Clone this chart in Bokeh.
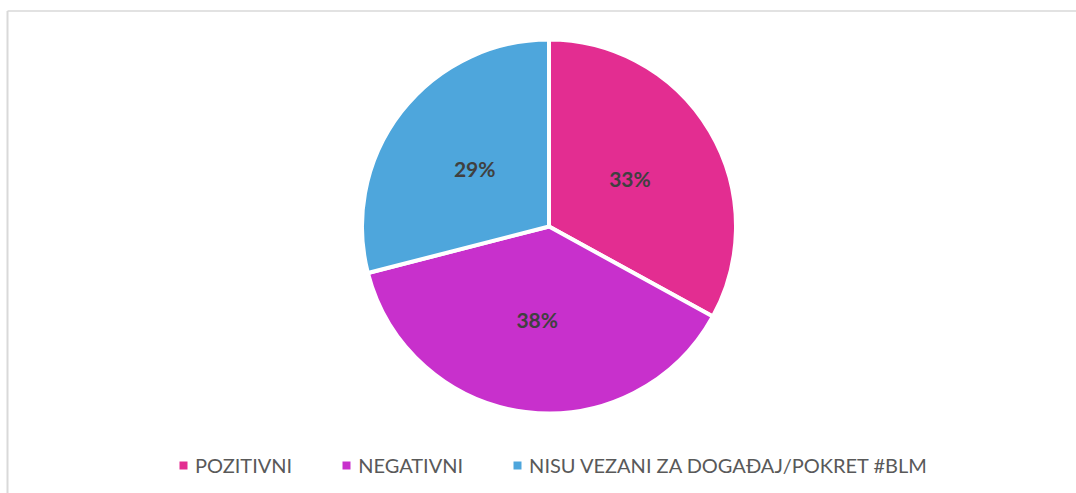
import numpy as np
from bokeh.plotting import figure
from bokeh.models import ColumnDataSource, Range1d, Legend, LegendItem
from bokeh.embed import file_html
from bokeh.resources import INLINE
from bokeh.core.properties import value

# ---- data ----
categories = ["POZITIVNI", "NEGATIVNI", "NISU VEZANI ZA DOGAĐAJ/POKRET #BLM"]
shares = [33, 38, 29]
colors = ["#E32D91", "#C830CC", "#4EA6DC"]
pct_labels = [f"{v}%" for v in shares]

W, H = 1076, 493
CX, CY = 548.5, H - 226
R = 185
LABEL_R = 94
SEP = 4

frac = np.array(shares, dtype=float) / sum(shares)
cum = np.cumsum(frac)
start = np.pi / 2 - 2 * np.pi * (cum - frac)
end = np.pi / 2 - 2 * np.pi * cum
mid = (start + end) / 2

src = ColumnDataSource(dict(
    cat=categories, share=shares, color=colors, start=start, end=end,
    lx=CX + LABEL_R * np.cos(mid), ly=CY + LABEL_R * np.sin(mid), lab=pct_labels,
))

p = figure(width=W, height=H, x_range=Range1d(0, W), y_range=Range1d(0, H),
           output_backend="svg", toolbar_location=None, min_border=0,
           background_fill_color="white", border_fill_color="white")
p.axis.visible = False
p.grid.visible = False
p.outline_line_color = None

# chart border
p.segment(x0=[7, 7], y0=[H - 10.5, H - 10.5], x1=[7, W + 5], y1=[-5, H - 10.5],
          line_color="#D9D9D9", line_width=[2, 1.3])

p.wedge(x=CX, y=CY, radius=R + SEP / 2, start_angle="start", end_angle="end",
        direction="clock", fill_color="color", line_color="white",
        line_width=SEP, source=src)

# zero-radius twin used only for legend swatches (fill, no stroke)
swatch = p.wedge(x=CX, y=CY, radius=0, start_angle="start", end_angle="end",
                 direction="clock", fill_color="color", line_color=None, source=src)

p.text(x="lx", y="ly", text="lab", source=src, text_align="center",
       text_baseline="middle", text_font=value("Lato"), text_font_style="bold",
       text_font_size="21px", text_color="#404040")

legend = Legend(items=[LegendItem(label=c, renderers=[swatch], index=i) for i, c in enumerate(categories)],
                orientation="horizontal", location=(178, 16),
                glyph_width=10, glyph_height=10, label_standoff=7, spacing=49,
                padding=0, margin=0, label_height=24,
                label_text_font="Lato", label_text_font_size="20px",
                label_text_color="#595959",
                border_line_color=None, background_fill_alpha=0)
p.add_layout(legend, "center")

open("out.html", "w").write(file_html(p, INLINE))
